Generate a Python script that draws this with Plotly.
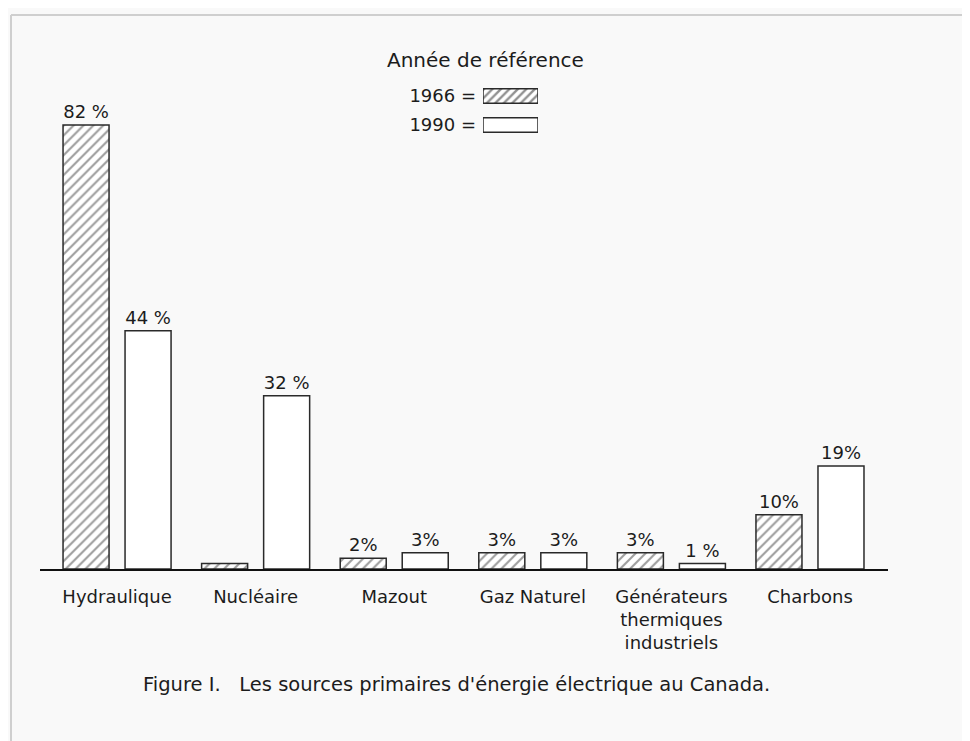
import plotly.graph_objects as go

# ---- data ----
categories = ["Hydraulique", "Nucléaire", "Mazout", "Gaz Naturel",
              "Générateurs<br>thermiques<br>industriels", "Charbons"]
values_1966 = [82, 1, 2, 3, 3, 10]
values_1990 = [44, 32, 3, 3, 1, 19]
labels_1966 = ["82 %", "", "2%", "3%", "3%", "10%"]
labels_1990 = ["44 %", "32 %", "3%", "3%", "1 %", "19%"]
legend_title = "Année de référence"
legend_rows = ["1966 =", "1990 ="]
caption = "Figure I.   Les sources primaires d'énergie électrique au Canada."

FONT = "DejaVu Sans"
INK = "#1c1c1c"
EDGE = "#2a2a2a"

OFF = 8  # page body margin
W, H = 970 - OFF, 741 - OFF
ML, MR, MT, MB = 40 - OFF, 82, 60 - OFF, 172
PW = W - ML - MR
PH = H - MT - MB

def px_x(px):
    return (px - OFF - ML) / PW

def px_y(py):
    return (H - MB - (py - OFF)) / PH

fig = go.Figure()

fig.add_trace(go.Bar(
    x=categories, y=values_1966, text=labels_1966, name="1966",
    textposition="outside", cliponaxis=False,
    textfont=dict(family=FONT, size=18, color=INK),
    marker=dict(color="white", line=dict(color=EDGE, width=1.5),
                pattern=dict(shape="/", fgcolor="#3c3c3c", bgcolor="white",
                             size=7, solidity=0.3)),
    showlegend=False,
))
fig.add_trace(go.Bar(
    x=categories, y=values_1990, text=labels_1990, name="1990",
    textposition="outside", cliponaxis=False,
    textfont=dict(family=FONT, size=18, color=INK),
    marker=dict(color="white", line=dict(color=EDGE, width=1.5)),
    showlegend=False,
))

# legend swatches drawn as a small inset bar chart
fig.add_trace(go.Bar(
    y=legend_rows, x=[1, 1], orientation="h", xaxis="x2", yaxis="y2",
    width=0.5, showlegend=False, hoverinfo="skip",
    marker=dict(color="white", line=dict(color=EDGE, width=1.5),
                pattern=dict(shape=["/", ""], fgcolor="#222222", bgcolor="white",
                             size=6, solidity=0.4)),
))

fig.update_layout(
    width=W, height=H,
    margin=dict(l=ML, r=MR, t=MT, b=MB),
    paper_bgcolor="#f9f9f9", plot_bgcolor="rgba(0,0,0,0)",
    barmode="group", bargap=0.105, bargroupgap=0.258,
    font=dict(family=FONT, size=18, color=INK),
    xaxis=dict(range=[-0.556, 5.563], showgrid=False, zeroline=False,
               showline=True, linecolor="#111111", linewidth=2,
               ticks="", ticklabelstandoff=10,
               tickfont=dict(family=FONT, size=18, color=INK)),
    yaxis=dict(range=[0, 94], visible=False),
    xaxis2=dict(domain=[px_x(483), px_x(538)], anchor="y2", range=[0, 1],
                visible=False),
    yaxis2=dict(domain=[px_y(139.5), px_y(81.5)], anchor="x2", type="category",
                categoryorder="array", categoryarray=legend_rows,
                autorange="reversed", showgrid=False, zeroline=False,
                showline=False, ticks="", ticklabelstandoff=6,
                tickfont=dict(family=FONT, size=18, color=INK)),
    annotations=[
        dict(text=legend_title, x=px_x(485), y=px_y(60), xref="paper", yref="paper",
             showarrow=False, xanchor="center", yanchor="middle",
             font=dict(family=FONT, size=20, color=INK)),
        dict(text=caption, x=px_x(456), y=px_y(684), xref="paper", yref="paper",
             showarrow=False, xanchor="center", yanchor="middle",
             font=dict(family=FONT, size=19.5, color=INK)),
    ],
    shapes=[
        dict(type="line", xref="paper", yref="paper",
             x0=px_x(11), x1=px_x(975), y0=px_y(15), y1=px_y(15),
             line=dict(color="#cfcfcf", width=2), layer="below"),
        dict(type="line", xref="paper", yref="paper",
             x0=px_x(11), x1=px_x(11), y0=px_y(15), y1=px_y(745),
             line=dict(color="#cfcfcf", width=2), layer="below"),
    ],
)

fig.write_html("out.html")
